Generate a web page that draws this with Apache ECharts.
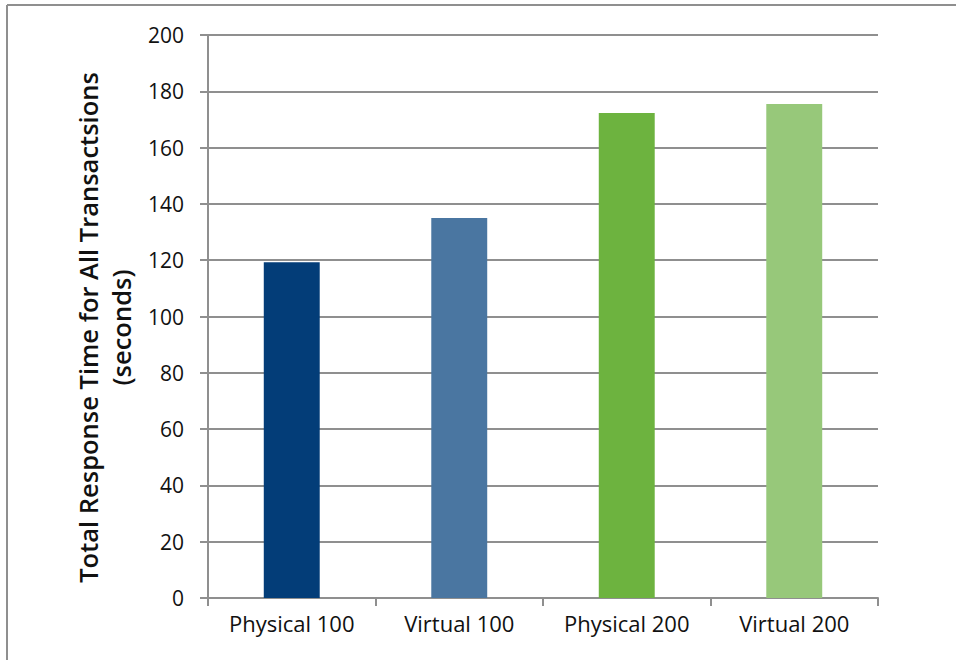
<!DOCTYPE html>
<html>
<head>
<meta charset="utf-8">
<script src="https://cdn.jsdelivr.net/npm/echarts@6/dist/echarts.min.js"></script>
<style>
  html, body { margin: 0; padding: 0; background: #fff; }
  #chart { width: 956px; height: 660px; }
</style>
</head>
<body>
<div id="chart"></div>
<script>
// categories and values
const categories = ['Physical 100', 'Virtual 100', 'Physical 200', 'Virtual 200'];
const responseTimes = [119.3, 135.0, 172.3, 175.5];
const barColors = ['#033d78', '#4a76a1', '#6db33f', '#97c87a'];
const yTicks = {min: 0, max: 200, interval: 20};

const FONT = '"Open Sans", Lato, sans-serif';
const gridColor = '#8f8f8f';

const chart = echarts.init(document.getElementById('chart'), null, {renderer: 'svg'});

chart.setOption({
    animation: false,
    backgroundColor: '#fff',
    grid: {left: 208, right: 78, top: 35, bottom: 62, containLabel: false},
    xAxis: {
        type: 'category',
        data: categories,
        axisLine: {lineStyle: {color: gridColor, width: 2}},
        axisTick: {show: true, length: 8, lineStyle: {color: gridColor, width: 2}},
        axisLabel: {color: '#111', fontFamily: FONT, fontSize: 22, margin: 14}
    },
    yAxis: {
        type: 'value',
        min: yTicks.min,
        max: yTicks.max,
        interval: yTicks.interval,
        name: 'Total Response Time for All Transactsions\n(seconds)',
        nameLocation: 'middle',
        nameRotate: 90,
        nameGap: 58,
        nameTextStyle: {color: '#111', fontFamily: FONT, fontSize: 25.5, fontWeight: 600, lineHeight: 33, padding: [0, 22, 0, 0]},
        axisLine: {show: true, lineStyle: {color: gridColor, width: 2}},
        axisTick: {show: true, length: 8, lineStyle: {color: gridColor, width: 2}},
        axisLabel: {color: '#111', fontFamily: FONT, fontSize: 21, margin: 24},
        splitLine: {show: true, lineStyle: {color: gridColor, width: 2}}
    },
    series: [{
        type: 'bar',
        barWidth: '33.4%',
        data: responseTimes.map((v, i) => ({value: v, itemStyle: {color: barColors[i]}}))
    }],
    graphic: [
        {type: 'line', shape: {x1: 7, y1: 5, x2: 956, y2: 5}, style: {stroke: gridColor, lineWidth: 2}},
        {type: 'line', shape: {x1: 7, y1: 5, x2: 7, y2: 660}, style: {stroke: gridColor, lineWidth: 2}}
    ]
});
</script>
</body>
</html>
